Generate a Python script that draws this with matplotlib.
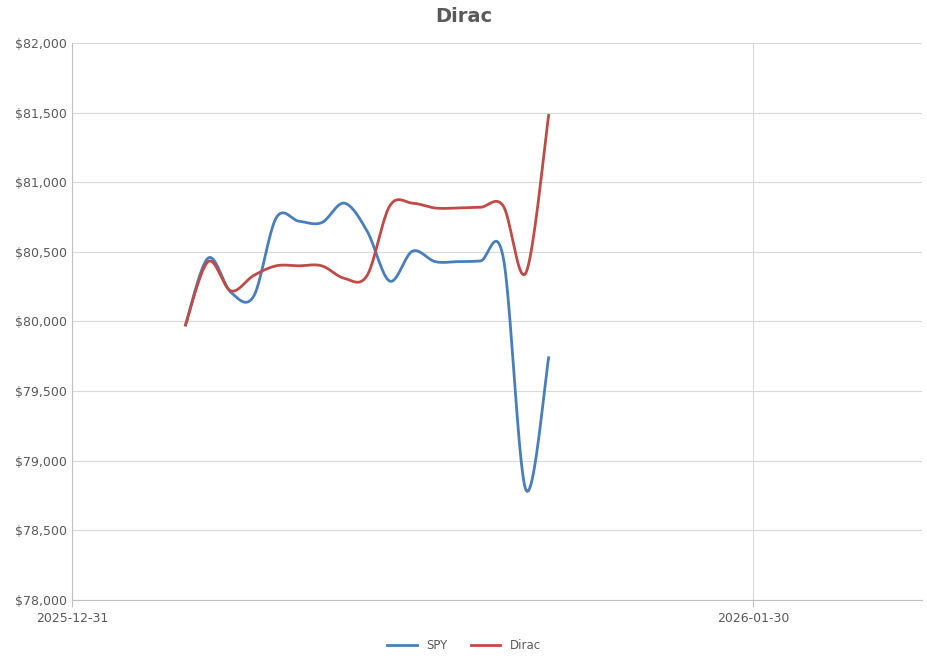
import matplotlib
matplotlib.use("Agg")
import matplotlib.pyplot as plt
import numpy as np
from matplotlib.ticker import FuncFormatter, FixedLocator

# Data: day offsets from 2025-12-31 (Jan 5 .. Jan 21, 2026)
days = list(range(5, 22))
spy = [79975, 80456, 80210, 80180, 80745, 80720, 80710, 80850, 80650, 80290,
       80505, 80430, 80430, 80435, 80460, 78790, 79740]
dirac = [79975, 80430, 80220, 80330, 80400, 80400, 80400, 80310, 80330, 80830,
         80850, 80815, 80815, 80820, 80830, 80350, 81480]
tick_days = [0, 30]
tick_labels = ["2025-12-31", "2026-01-30"]

def smooth(x, y, n=20):
    x = np.asarray(x, float); y = np.asarray(y, float)
    xs, ys = [], []
    for i in range(len(x) - 1):
        p0 = (x[max(i-1, 0)], y[max(i-1, 0)]); p1 = (x[i], y[i])
        p2 = (x[i+1], y[i+1]); p3 = (x[min(i+2, len(x)-1)], y[min(i+2, len(x)-1)])
        c1 = (p1[0] + (p2[0]-p0[0])/6, p1[1] + (p2[1]-p0[1])/6)
        c2 = (p2[0] - (p3[0]-p1[0])/6, p2[1] - (p3[1]-p1[1])/6)
        t = np.linspace(0, 1, n, endpoint=(i == len(x)-2))
        for a, b in [(xs, 0), (ys, 1)]:
            a.extend((1-t)**3*p1[b] + 3*(1-t)**2*t*c1[b] + 3*(1-t)*t**2*c2[b] + t**3*p2[b])
    return xs, ys

fig = plt.figure(figsize=(9.28, 6.63), dpi=100)
ax = fig.add_axes([72/928, 63/663, 850/928, 557/663])
ax.plot(*smooth(days, spy), color="#4a7ebb", lw=2, label="SPY")
ax.plot(*smooth(days, dirac), color="#be4b48", lw=2, label="Dirac")
ax.set_ylim(78000, 82000)
ax.set_xlim(0, 37.45)
ax.set_yticks(np.arange(78000, 82001, 500))
ax.yaxis.set_major_formatter(FuncFormatter(lambda v, p: f"${v:,.0f}"))
ax.xaxis.set_major_locator(FixedLocator(tick_days))
ax.set_xticklabels(tick_labels)
ax.grid(True, color="#d9d9d9", lw=0.8)
ax.set_axisbelow(True)
for s in ["top", "right"]:
    ax.spines[s].set_visible(False)
for s in ["left", "bottom"]:
    ax.spines[s].set_color("#bfbfbf")
ax.tick_params(axis="y", length=0, labelsize=9, colors="#595959")
ax.tick_params(axis="x", length=5, color="#bfbfbf", labelsize=9, colors="#595959")
fig.suptitle("Dirac", y=0.99, fontsize=14, fontweight="bold", color="#595959")
fig.legend(loc="lower center", ncol=2, frameon=False, fontsize=8.5,
           bbox_to_anchor=(0.5, 0.0), handlelength=2.5, labelcolor="#595959")
fig.savefig("out.png", dpi=100)
